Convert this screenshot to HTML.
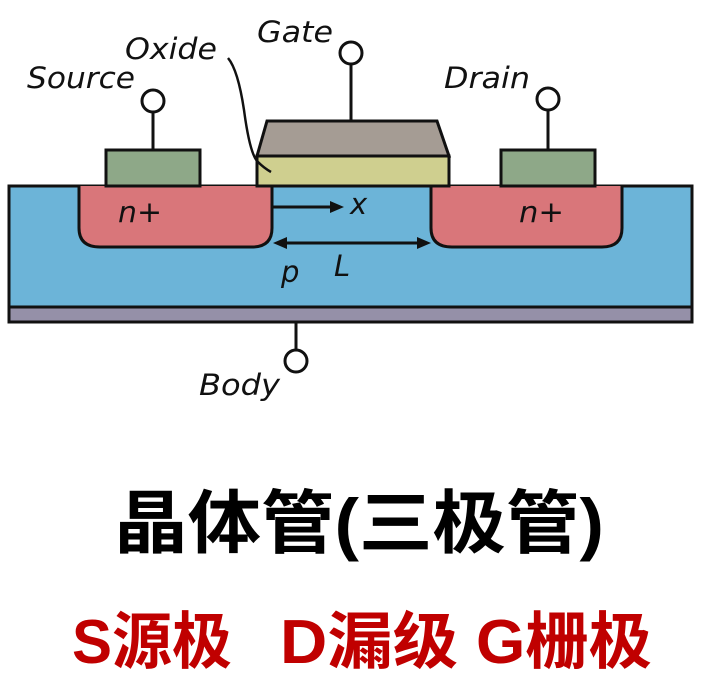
<!DOCTYPE html>
<html><head><meta charset="utf-8"><style>
html,body{margin:0;padding:0;background:#fff;width:704px;height:675px;overflow:hidden}
svg{display:block}
.l{font-family:"DejaVu Sans","Liberation Sans",sans-serif;font-style:italic;fill:#111}
.t{font-family:"Liberation Sans","Noto Sans CJK SC",sans-serif;font-weight:bold}
</style></head><body>
<svg width="704" height="675" viewBox="0 0 704 675" xmlns="http://www.w3.org/2000/svg">
<g stroke="#111" stroke-width="3">
<rect x="9" y="186" width="683" height="121" fill="#6cb4d8"/>
<rect x="9" y="307" width="683" height="15" fill="#9590a8"/>
<path d="M79 186 V228 Q79 247 100 247 H252 Q272 247 272 228 V186" fill="#d9767a"/>
<path d="M431 186 V228 Q431 247 452 247 H602 Q622 247 622 228 V186" fill="#d9767a"/>
<rect x="106" y="150" width="94" height="36" fill="#8ea888"/>
<rect x="501" y="150" width="94" height="36" fill="#8ea888"/>
<rect x="257" y="156" width="192" height="30" fill="#cfcf8f"/>
<path d="M257 156 L267 121 H437 L449 156 Z" fill="#a59c94"/>
<line x1="153" y1="113" x2="153" y2="150"/>
<line x1="548" y1="111" x2="548" y2="150"/>
<line x1="351" y1="65" x2="351" y2="121"/>
<line x1="296" y1="322" x2="296" y2="349"/>
<circle cx="153" cy="101" r="11" fill="#fff"/>
<circle cx="548" cy="99" r="11" fill="#fff"/>
<circle cx="351" cy="53" r="11" fill="#fff"/>
<circle cx="296" cy="361" r="11" fill="#fff"/>
<path d="M228 58 Q238 70 244 110 Q250 155 258 162 Q264 168 271 172" fill="none" stroke-width="2.5"/>
<line x1="272" y1="207" x2="332" y2="207"/>
<line x1="284" y1="243" x2="420" y2="243"/>
</g>
<g fill="#111">
<path d="M344 207 L330 201 L330 213 Z"/>
<path d="M273 243 L287 237 L287 249 Z"/>
<path d="M431 243 L417 237 L417 249 Z"/>
</g>
<g class="l" font-size="29">
<text x="27" y="88" textLength="108" lengthAdjust="spacingAndGlyphs">Source</text>
<text x="125" y="59" textLength="92" lengthAdjust="spacingAndGlyphs">Oxide</text>
<text x="257" y="42" textLength="76" lengthAdjust="spacingAndGlyphs">Gate</text>
<text x="444" y="88" textLength="86" lengthAdjust="spacingAndGlyphs">Drain</text>
<text x="199" y="395" textLength="81" lengthAdjust="spacingAndGlyphs">Body</text>
<text x="118" y="222" textLength="44" lengthAdjust="spacingAndGlyphs">n+</text>
<text x="519" y="222" textLength="45" lengthAdjust="spacingAndGlyphs">n+</text>
<text x="350" y="214">x</text>
<text x="334" y="276">L</text>
<text x="281" y="282">p</text>
</g>
<text class="t" x="359" y="547" text-anchor="middle" font-size="69" fill="#000" textLength="490" lengthAdjust="spacingAndGlyphs">晶体管(三极管)</text>
<g class="t" font-size="62" fill="#c00000">
<text x="72" y="663" textLength="160" lengthAdjust="spacingAndGlyphs">S源极</text>
<text x="280" y="663" textLength="178" lengthAdjust="spacingAndGlyphs">D漏级</text>
<text x="476" y="663" textLength="176" lengthAdjust="spacingAndGlyphs">G栅极</text>
</g>
</svg>
</body></html>
